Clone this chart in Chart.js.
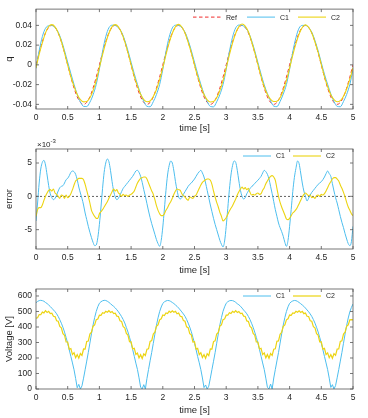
<!DOCTYPE html>
<html><head><meta charset="utf-8">
<script src="https://cdn.jsdelivr.net/npm/chart.js@4/dist/chart.umd.min.js"></script>
<style>
html,body{margin:0;padding:0;background:#fff;}
#wrap{position:relative;width:368px;height:418px;overflow:hidden;}
canvas{position:absolute;left:0;}
</style></head><body>
<div id="wrap">
<canvas id="cq" width="368" height="136" style="top:0"></canvas>
<canvas id="ce" width="368" height="142" style="top:136px"></canvas>
<canvas id="cv" width="368" height="140" style="top:278px"></canvas>
</div>
<script>
// ---------- data ----------
const Q_STEP = 0.05, F_STEP = 0.025;
const timeQ = Array.from({length:101},(_,i)=>+(i*Q_STEP).toFixed(3));
const timeF = Array.from({length:201},(_,i)=>+(i*F_STEP).toFixed(3));

const timeTicks = [0,0.5,1,1.5,2,2.5,3,3.5,4,4.5,5];
const timeTickLabels = ['0','0.5','1','1.5','2','2.5','3','3.5','4','4.5','5'];
const qTicks = [-0.04,-0.02,0,0.02,0.04];
const qTickLabels = ['-0.04','-0.02','0','0.02','0.04'];
const errTicks = [-5,0,5];
const errTickLabels = ['-5','0','5'];
const voltTicks = [0,100,200,300,400,500,600];
const voltTickLabels = ['0','100','200','300','400','500','600'];

const seriesNames = ['Ref','C1','C2'];

// q [-] sampled every 0.05 s
const refQ = [
0,0.0124,0.0235,0.0324,0.038,0.04,0.038,0.0324,0.0235,0.0124,0,-0.0124,-0.0235,-0.0324,-0.038,-0.04,-0.038,-0.0324,-0.0235,-0.0124,
0,0.0124,0.0235,0.0324,0.038,0.04,0.038,0.0324,0.0235,0.0124,0,-0.0124,-0.0235,-0.0324,-0.038,-0.04,-0.038,-0.0324,-0.0235,-0.0124,
0,0.0124,0.0235,0.0324,0.038,0.04,0.038,0.0324,0.0235,0.0124,0,-0.0124,-0.0235,-0.0324,-0.038,-0.04,-0.038,-0.0324,-0.0235,-0.0124,
0,0.0124,0.0235,0.0324,0.038,0.04,0.038,0.0324,0.0235,0.0124,0,-0.0124,-0.0235,-0.0324,-0.038,-0.04,-0.038,-0.0324,-0.0235,-0.0124,
0,0.0124,0.0235,0.0324,0.038,0.04,0.038,0.0324,0.0235,0.0124,0,-0.0124,-0.0235,-0.0324,-0.038,-0.04,-0.038,-0.0324,-0.0235,-0.0124,
0];
const c1Q = [
-0.0037,0.0144,0.0286,0.0371,0.0396,0.0398,0.0377,0.0332,0.025,0.0144,0.0027,-0.0088,-0.0198,-0.0299,-0.0375,-0.042,-0.0422,-0.0378,-0.0304,-0.0197,
-0.0042,0.0136,0.0285,0.0376,0.0402,0.0399,0.0377,0.0331,0.025,0.0145,0.0027,-0.009,-0.0196,-0.0294,-0.037,-0.042,-0.0424,-0.0373,-0.03,-0.0199,
-0.0046,0.0133,0.0281,0.0374,0.0402,0.0399,0.0378,0.0331,0.025,0.0144,0.0026,-0.009,-0.0196,-0.0295,-0.0371,-0.0421,-0.0425,-0.0374,-0.0301,-0.02,
-0.0045,0.0134,0.0281,0.0375,0.0403,0.04,0.0378,0.0332,0.0249,0.0143,0.0024,-0.0094,-0.0202,-0.0291,-0.0365,-0.0418,-0.0423,-0.0371,-0.0295,-0.0199,
-0.0045,0.0131,0.0277,0.0373,0.04,0.04,0.0377,0.033,0.0247,0.0142,0.0022,-0.0095,-0.0197,-0.0294,-0.0372,-0.042,-0.0424,-0.0371,-0.0299,-0.0198,
-0.0045];
const c2Q = [
-0.003,0.0107,0.0222,0.0324,0.0389,0.0408,0.0385,0.0324,0.0237,0.0121,-0.0002,-0.012,-0.0218,-0.0299,-0.0353,-0.0375,-0.0371,-0.0334,-0.0261,-0.0157,
-0.0026,0.0104,0.0223,0.0321,0.0387,0.0408,0.0385,0.0324,0.0236,0.0124,0.0003,-0.0116,-0.0215,-0.0297,-0.0351,-0.0374,-0.0366,-0.0321,-0.0249,-0.015,
-0.0029,0.0103,0.0223,0.0321,0.0388,0.041,0.0384,0.0323,0.0229,0.0122,0,-0.0117,-0.0218,-0.0301,-0.0354,-0.0376,-0.0372,-0.0333,-0.0259,-0.0159,
-0.0032,0.0102,0.0221,0.032,0.0387,0.0414,0.0393,0.0336,0.0237,0.0126,0.0005,-0.012,-0.0222,-0.0301,-0.035,-0.0371,-0.0368,-0.0333,-0.0257,-0.0158,
-0.0033,0.0099,0.0215,0.0313,0.0379,0.0405,0.0381,0.0322,0.0232,0.0126,0.0003,-0.012,-0.0222,-0.0302,-0.0352,-0.0374,-0.0363,-0.0318,-0.0244,-0.0145,
-0.0029];

// error [x1e-3] sampled every 0.025 s
const c1Err = [
-3.7,-1.0,2.0,4.1,5.1,5.4,4.7,3.2,1.6,0.4,-0.2,-0.5,-0.3,0.2,0.8,1.3,1.5,1.6,2.0,2.5,2.7,3.1,3.6,3.8,3.7,3.3,2.5,1.4,0.5,-0.3,-1.3,-2.5,-3.5,-4.5,-5.4,-6.2,-6.9,-7.4,-7.3,-6.2,
-4.2,-1.6,1.2,3.6,5.0,5.6,5.2,3.9,2.2,0.8,-0.1,-0.5,-0.3,0.2,0.7,1.2,1.5,1.8,2.1,2.4,2.7,3.0,3.4,3.8,3.9,3.6,3.0,2.1,1.0,0.0,-1.1,-2.2,-3.2,-4.1,-4.9,-5.7,-6.5,-7.1,-7.5,-6.6,
-4.6,-1.9,0.9,3.2,4.6,5.3,5.0,3.8,2.2,0.9,-0.1,-0.4,-0.2,0.3,0.7,1.1,1.5,1.8,2.0,2.3,2.6,3.0,3.4,3.7,3.9,3.5,2.9,2.0,0.9,-0.2,-1.3,-2.3,-3.3,-4.2,-5.0,-5.8,-6.6,-7.2,-7.6,-6.7,
-4.5,-1.8,1.0,3.2,4.6,5.3,5.1,3.9,2.3,0.9,0.0,-0.4,-0.2,0.4,0.8,1.2,1.4,1.7,1.9,2.2,2.4,2.7,3.0,3.5,3.9,3.7,3.3,2.6,1.5,0.4,-0.8,-2.0,-3.0,-4.0,-4.7,-5.3,-6.0,-6.9,-7.5,-6.6,
-4.5,-2.0,0.7,2.8,4.2,5.3,4.9,3.5,2.0,0.8,0.0,-0.7,-0.3,0.2,0.6,0.9,1.2,1.5,1.8,2.0,2.2,2.5,2.9,3.4,3.8,3.4,3.0,1.9,0.8,-0.2,-1.0,-2.0,-3.0,-3.9,-4.7,-5.6,-6.4,-7.1,-7.4,-6.8,
-4.5];
const c2Err = [
-3.0,-2.0,-1.7,-1.7,-1.3,-0.6,0.0,0.5,0.9,1.0,0.8,1.1,0.5,0.3,0.0,-0.3,0.2,0.1,-0.3,0.2,-0.2,0.0,0.4,1.0,1.7,2.3,2.5,2.7,2.7,2.7,2.5,1.8,0.9,0.0,-1.0,-2.1,-2.6,-3.0,-3.3,-3.3,
-2.6,-2.3,-2.0,-1.6,-1.2,-0.8,-0.3,0.2,0.7,1.1,0.8,1.0,0.5,0.3,0.0,0.3,0.1,0.2,0.0,0.2,0.3,0.5,0.8,1.4,2.0,2.4,2.7,2.8,2.9,2.9,2.6,2.0,1.4,0.8,0.3,-0.5,-1.4,-2.1,-2.6,-2.9,
-2.9,-2.6,-2.1,-1.7,-1.2,-0.8,-0.3,0.3,0.8,1.1,1.0,0.9,0.4,0.1,-0.1,-0.4,-0.6,-0.1,-0.2,-0.3,0.0,0.2,0.7,1.2,1.7,2.1,2.3,2.5,2.6,2.6,2.4,1.8,0.8,-0.1,-0.9,-1.6,-2.4,-3.0,-3.7,-3.5,
-3.2,-2.7,-2.2,-1.8,-1.4,-0.9,-0.4,0.2,0.7,1.1,1.4,1.1,1.3,1.0,1.2,0.6,0.2,0.3,0.2,0.4,0.5,0.3,0.4,0.9,1.3,1.9,2.3,2.7,3.0,3.1,2.9,2.4,1.2,0.0,-0.9,-1.6,-2.2,-2.8,-3.4,-3.5,
-3.3,-2.9,-2.5,-2.3,-2.0,-1.6,-1.1,-0.6,-0.1,0.3,0.5,0.3,0.1,0.2,-0.2,-0.1,-0.3,0.1,0.2,0.0,0.3,0.2,0.4,0.8,1.3,1.8,2.2,2.6,2.8,2.8,2.6,2.3,1.7,1.2,0.6,-0.1,-0.9,-1.6,-2.1,-2.6,
-2.9];

// Voltage [V] sampled every 0.025 s (C2 is a noisy signal)
const c1Volt = [
556,565,570,572,570,566,558,551,542,532,521,510,499,485,468,447,424,398,367,332,294,252,210,168,124,68,8,30,0,20,70,124,180,236,296,356,412,461,500,531,
553,563,569,572,571,566,559,550,541,533,523,511,498,483,467,448,426,397,368,334,296,254,211,167,126,72,12,0,28,0,68,126,182,236,294,354,411,459,499,529,
552,562,568,571,570,565,558,551,542,533,522,510,497,484,469,449,425,399,369,333,295,253,209,169,125,71,9,26,0,18,70,125,179,234,295,355,413,460,501,530,
553,563,569,571,570,566,559,550,543,534,522,509,498,485,468,448,424,398,367,333,296,254,211,168,126,70,11,0,32,0,71,126,181,235,296,356,412,461,500,530,
552,562,568,571,570,565,558,550,542,533,522,510,498,484,468,448,425,398,368,333,295,253,210,168,125,70,10,28,0,22,72,125,180,235,295,355,410,458,498,526,
548];
const c2Volt = [
457,459,480,479,496,491,505,494,501,486,489,469,467,440,437,403,395,357,347,303,303,256,261,222,234,202,222,199,229,217,258,257,307,309,354,366,405,413,447,451,
476,475,492,488,501,495,505,494,500,486,489,470,468,440,436,402,395,358,348,305,304,259,263,223,232,201,221,197,227,216,257,259,307,312,354,367,405,414,446,453,
477,474,491,487,502,494,504,495,501,485,490,469,467,441,437,401,396,357,349,303,305,257,262,221,234,203,222,198,228,215,259,258,306,311,355,365,406,413,447,452,
476,476,492,487,501,494,505,493,500,487,489,470,468,439,436,403,394,358,347,304,303,258,262,222,233,201,223,198,229,216,257,259,308,310,353,366,404,414,446,453,
477,475,491,488,501,495,504,494,501,486,490,469,468,440,437,402,395,357,348,304,304,257,262,222,233,202,222,198,228,217,258,258,307,311,354,366,405,414,446,448,
446];

// ---------- styling ----------
const FONT = "'Liberation Sans', Arial, Helvetica, sans-serif";
const TXT = '#262626';
const BLUE = 'rgb(77,190,238)';
const YELLOW = 'rgb(236,212,18)';
const RED = 'rgb(240,45,45)';

const pts = (t, v) => t.map((x, i) => ({x, y: v[i]}));

const framePlugin = {
  id: 'frame',
  beforeDatasetsDraw(chart, args, opts) {
    if (!opts.zeroLine) return;
    const {ctx, chartArea: a, scales: {y}} = chart;
    const py = y.getPixelForValue(0);
    ctx.save();
    ctx.strokeStyle = '#3a3a3a'; ctx.lineWidth = 0.8; ctx.setLineDash([2, 2]);
    ctx.beginPath(); ctx.moveTo(a.left, py); ctx.lineTo(a.right, py); ctx.stroke();
    ctx.restore();
  },
  afterDatasetsDraw(chart, args, opts) {
    const {ctx, chartArea: a, scales: {x, y}} = chart;
    ctx.save();
    ctx.strokeStyle = '#555'; ctx.lineWidth = 0.8;
    ctx.strokeRect(a.left, a.top, a.right - a.left, a.bottom - a.top);
    ctx.beginPath();
    const L = 3;
    x.ticks.forEach(t => { const px = x.getPixelForValue(t.value);
      ctx.moveTo(px, a.bottom); ctx.lineTo(px, a.bottom - L);
      ctx.moveTo(px, a.top); ctx.lineTo(px, a.top + L); });
    y.ticks.forEach(t => { const py = y.getPixelForValue(t.value);
      ctx.moveTo(a.left, py); ctx.lineTo(a.left + L, py);
      ctx.moveTo(a.right, py); ctx.lineTo(a.right - L, py); });
    ctx.stroke();
    // legend
    const ly = a.top + opts.legendDy;
    chart.data.datasets.forEach((ds, i) => {
      const x0 = a.right + opts.legendX[i];
      ctx.strokeStyle = ds.borderColor; ctx.lineWidth = ds.borderWidth;
      ctx.setLineDash(ds.borderDash || []);
      ctx.beginPath(); ctx.moveTo(x0, ly); ctx.lineTo(x0 + 28, ly); ctx.stroke();
      ctx.setLineDash([]);
      ctx.fillStyle = TXT; ctx.font = '7px ' + FONT; ctx.textBaseline = 'middle'; ctx.textAlign = 'left';
      ctx.fillText(ds.label, x0 + 33, ly + 0.5);
    });
    if (opts.exponent) {
      ctx.fillStyle = TXT; ctx.textBaseline = 'alphabetic'; ctx.textAlign = 'left';
      ctx.font = '8px ' + FONT;
      ctx.fillText('\u00d710', a.left + 1, a.top - 2);
      const w = ctx.measureText('\u00d710').width;
      ctx.font = '6px ' + FONT;
      ctx.fillText('-3', a.left + 1 + w, a.top - 6);
    }
    ctx.restore();
  }
};

function makeOptions(cfg) {
  return {
    responsive: false, animation: false, devicePixelRatio: 1,
    layout: {padding: {left: 0, right: 15, top: cfg.padTop, bottom: 0}},
    plugins: {legend: {display: false}, tooltip: {enabled: false},
      frame: {legendX: cfg.legendX, legendDy: cfg.legendDy, zeroLine: !!cfg.zeroLine, exponent: !!cfg.exponent}},
    elements: {point: {radius: 0}},
    scales: {
      x: {type: 'linear', min: 0, max: 5,
        afterBuildTicks: s => { s.ticks = timeTicks.map(v => ({value: v})); },
        afterFit: s => { s.height = cfg.xHeight; },
        grid: {display: false, drawTicks: false}, border: {display: false},
        ticks: {autoSkip: false, maxRotation: 0, padding: 4, color: TXT, font: {family: FONT, size: 8.5},
          callback: (v, i) => timeTickLabels[i]},
        title: {display: true, text: 'time [s]', color: TXT, font: {family: FONT, size: 9.5}, padding: {top: 0, bottom: 2}}},
      y: {type: 'linear', min: cfg.yMin, max: cfg.yMax,
        afterBuildTicks: s => { s.ticks = cfg.yTicks.map(v => ({value: v})); },
        afterFit: s => { s.width = 36; },
        grid: {display: false, drawTicks: false}, border: {display: false},
        ticks: {autoSkip: false, padding: 4, color: TXT, font: {family: FONT, size: 8.5},
          callback: (v, i) => cfg.yLabels[i]},
        title: {display: true, text: cfg.yTitle, color: TXT, font: {family: FONT, size: 9.5}, padding: {top: 4, bottom: 0}}}
    }
  };
}

new Chart(document.getElementById('cq'), {
  type: 'line',
  plugins: [framePlugin],
  data: {datasets: [
    {label: seriesNames[0], data: pts(timeQ, refQ), borderColor: RED, borderWidth: 1, borderDash: [3.5, 2.5], cubicInterpolationMode: 'monotone', order: 3},
    {label: seriesNames[1], data: pts(timeQ, c1Q), borderColor: BLUE, borderWidth: 1, cubicInterpolationMode: 'monotone', order: 2},
    {label: seriesNames[2], data: pts(timeQ, c2Q), borderColor: YELLOW, borderWidth: 1.1, cubicInterpolationMode: 'monotone', order: 1}
  ]},
  options: makeOptions({padTop: 7, xHeight: 27, yMin: -0.0447, yMax: 0.0565, yTicks: qTicks, yLabels: qTickLabels,
    yTitle: 'q', legendX: [-160, -106, -55], legendDy: 8})
});

new Chart(document.getElementById('ce'), {
  type: 'line',
  plugins: [framePlugin],
  data: {datasets: [
    {label: seriesNames[1], data: pts(timeF, c1Err), borderColor: BLUE, borderWidth: 1, cubicInterpolationMode: 'monotone', order: 2},
    {label: seriesNames[2], data: pts(timeF, c2Err), borderColor: YELLOW, borderWidth: 1.1, cubicInterpolationMode: 'monotone', order: 1}
  ]},
  options: makeOptions({padTop: 13, xHeight: 29, yMin: -7.9, yMax: 7.1, yTicks: errTicks, yLabels: errTickLabels,
    yTitle: 'error', legendX: [-110, -60], legendDy: 7, zeroLine: true, exponent: true})
});

new Chart(document.getElementById('cv'), {
  type: 'line',
  plugins: [framePlugin],
  data: {datasets: [
    {label: seriesNames[1], data: pts(timeF, c1Volt), borderColor: BLUE, borderWidth: 1, order: 2},
    {label: seriesNames[2], data: pts(timeF, c2Volt), borderColor: YELLOW, borderWidth: 1.2, order: 1}
  ]},
  options: makeOptions({padTop: 11, xHeight: 29, yMin: 0, yMax: 645, yTicks: voltTicks, yLabels: voltTickLabels,
    yTitle: 'Voltage [V]', legendX: [-110, -60], legendDy: 7})
});
</script>
</body></html>
